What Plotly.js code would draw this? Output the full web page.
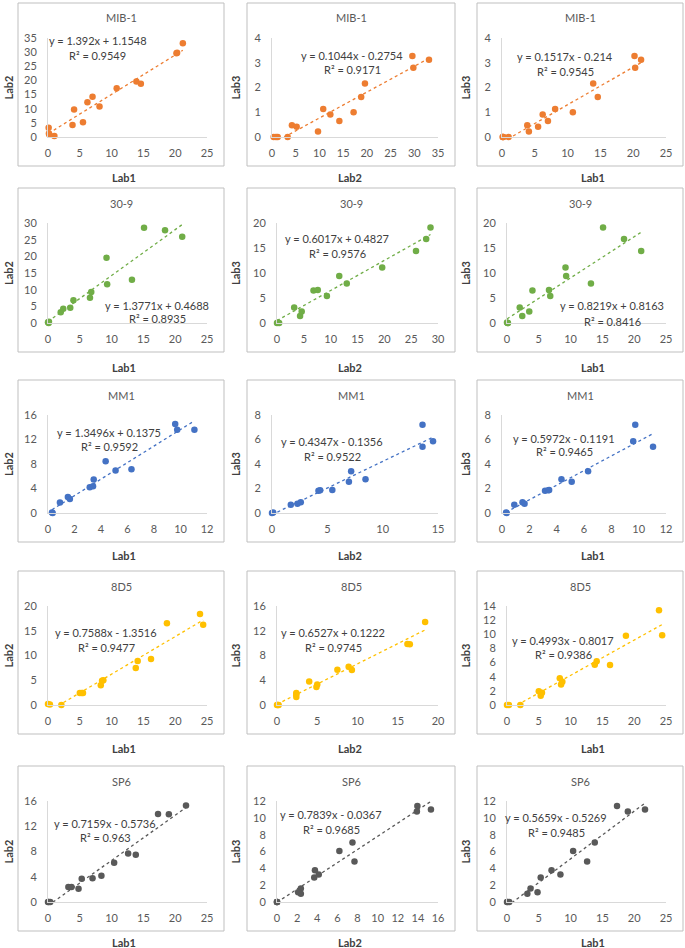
<!DOCTYPE html>
<html>
<head>
<meta charset="utf-8">
<script src="https://cdn.plot.ly/plotly-3.0.1.min.js"></script>
<style>
  body { margin: 0; background: #fff; }
  #chart { width: 685px; height: 948px; }
</style>
</head>
<body>
<div id="chart"></div>
<script>
// one row of panels per antibody
var antibodies = ["MIB-1", "30-9", "MM1", "8D5", "SP6"];
var colors = ["#ED7D31", "#70AD47", "#4472C4", "#FFC000", "#595959"];

// scores per sample, same sample order in the three labs
var mib1Lab1 = [0.1, 0.15, 0.2, 1.0, 3.85, 4.1, 5.5, 6.2, 7.0, 8.1, 10.8, 13.9, 14.6, 20.2, 20.3, 21.2];
var mib1Lab2 = [3.3, 1.2, 0.85, 0.35, 4.2, 9.7, 5.2, 12.3, 14.2, 10.8, 17.2, 19.6, 18.8, 29.6, 29.8, 33.1];
var mib1Lab3 = [0, 0, 0, 0, 0.47, 0.22, 0.41, 0.91, 0.65, 1.13, 1.0, 2.16, 1.62, 3.27, 2.8, 3.12];

var a309Lab1 = [0, 0.1, 0.15, 2.0, 2.4, 3.5, 4.0, 6.6, 6.8, 9.2, 9.3, 13.2, 15.1, 18.4, 21.1];
var a309Lab2 = [0.2, 0, 0.4, 3.2, 4.3, 4.6, 6.8, 7.6, 9.3, 19.6, 11.6, 13.0, 28.6, 27.8, 25.9];
var a309Lab3 = [0.1, 0, 0, 3.1, 1.4, 2.3, 6.5, 6.6, 5.4, 11.1, 9.4, 7.9, 19.1, 16.8, 14.4];

var mm1Lab1 = [0.3, 0.35, 0.9, 1.5, 1.65, 3.15, 3.4, 3.45, 4.35, 5.1, 6.3, 9.6, 9.75, 11.05];
var mm1Lab2 = [0.1, 0, 1.7, 2.6, 2.3, 4.2, 4.35, 5.45, 8.45, 6.95, 7.15, 14.55, 13.6, 13.6];
var mm1Lab3 = [0.05, 0, 0.67, 0.88, 0.75, 1.81, 1.86, 1.87, 2.75, 2.55, 3.4, 5.85, 7.2, 5.4];

var d85Lab1 = [0, 0.3, 2.1, 5.0, 5.3, 5.5, 8.3, 8.5, 8.7, 13.8, 14.1, 16.2, 18.7, 23.9, 24.4];
var d85Lab2 = [0.2, 0.1, 0, 2.4, 2.4, 2.4, 4.0, 4.9, 5.0, 7.5, 8.9, 9.3, 16.5, 18.4, 16.2];
var d85Lab3 = [0, 0, 0, 1.95, 1.3, 1.75, 3.8, 2.9, 3.3, 5.7, 6.2, 5.65, 9.8, 13.4, 9.85];

var sp6Lab1 = [0, 0.1, 0.35, 3.2, 3.7, 4.8, 5.3, 7.0, 8.4, 10.4, 12.6, 13.8, 17.3, 19.0, 21.7];
var sp6Lab2 = [0, 0, 0, 2.37, 2.37, 2.1, 3.7, 3.77, 4.15, 6.2, 7.7, 7.5, 13.95, 13.9, 15.3];
var sp6Lab3 = [0, 0, 0, 0.97, 1.6, 1.17, 2.9, 3.77, 3.26, 6.06, 4.8, 7.07, 11.4, 10.75, 11.0];

var labs = [
  [mib1Lab1, mib1Lab2, mib1Lab3],
  [a309Lab1, a309Lab2, a309Lab3],
  [mm1Lab1, mm1Lab2, mm1Lab3],
  [d85Lab1, d85Lab2, d85Lab3],
  [sp6Lab1, sp6Lab2, sp6Lab3]
];

// columns: Lab2 vs Lab1, Lab3 vs Lab2, Lab3 vs Lab1
var pairs = [[0, 1], [1, 2], [0, 2]];
var labNames = ["Lab1", "Lab2", "Lab3"];

// trendline slope, intercept and R² as printed on each panel
var slopes = [
  [1.392, 0.1044, 0.1517],
  [1.3771, 0.6017, 0.8219],
  [1.3496, 0.4347, 0.5972],
  [0.7588, 0.6527, 0.4993],
  [0.7159, 0.7839, 0.5659]
];
var intercepts = [
  [1.1548, -0.2754, -0.214],
  [0.4688, 0.4827, 0.8163],
  [0.1375, -0.1356, -0.1191],
  [-1.3516, 0.1222, -0.8017],
  [-0.5736, -0.0367, -0.5269]
];
var rSquared = [
  [0.9549, 0.9171, 0.9545],
  [0.8935, 0.9576, 0.8416],
  [0.9592, 0.9522, 0.9465],
  [0.9477, 0.9745, 0.9386],
  [0.963, 0.9685, 0.9485]
];

// axis scales
var xMax = [[25, 35, 25], [25, 30, 25], [12, 15, 12], [25, 20, 25], [25, 16, 25]];
var xStep = [[5, 5, 5], [5, 5, 5], [2, 5, 2], [5, 5, 5], [5, 2, 5]];
var yMax = [[35, 4, 4], [30, 20, 20], [16, 8, 8], [20, 16, 14], [16, 12, 12]];
var yStep = [[5, 1, 1], [5, 5, 5], [4, 2, 2], [5, 4, 2], [4, 2, 2]];

// page geometry in pixels
var W = 685, H = 948;
var colBox = [[18, 224], [247, 455], [477, 683]];
var rowBox = [[3, 166], [188, 352], [380, 542], [571, 734], [766, 931]];
var xTitleY = [177, 367, 555, 748, 942];
var xTitleX = [124, 350, 593];
var yTitleX = [8, 235, 465];
// equation position: centre x, line 1 y, line 2 y
var eqPos = [
  [[98, 41, 55], [352, 56, 70], [565, 57, 71]],
  [[157, 306, 319], [337, 239, 253], [612, 306, 321]],
  [[109, 432, 446], [332, 442, 456], [564, 438, 452]],
  [[106, 632, 647], [333, 632, 647], [563, 640, 654]],
  [[105, 823, 837], [331, 814, 829], [556, 817, 832]]
];

var font = "Lato, 'Open Sans', sans-serif";
function px(x) { return x / W; }
function py(y) { return 1 - y / H; }

var data = [];
var layout = {
  width: W, height: H,
  margin: {l: 0, r: 0, t: 0, b: 0},
  paper_bgcolor: "#fff", plot_bgcolor: "#fff",
  showlegend: false,
  font: {family: font, size: 11, color: "#595959"},
  shapes: [], annotations: []
};

// text placed by page pixel centre
function label(text, x, y, size, color, bold, angle) {
  layout.annotations.push({
    text: text, xref: "paper", yref: "paper",
    x: px(x), y: py(y), xanchor: "center", yanchor: "middle",
    showarrow: false, textangle: angle || 0,
    font: {family: font, size: size, color: color, weight: bold ? "bold" : "normal"}
  });
}

function addPanel(r, c) {
  var k = r * 3 + c;
  var xa = k === 0 ? "x" : "x" + (k + 1);
  var ya = k === 0 ? "y" : "y" + (k + 1);
  var xs = labs[r][pairs[c][0]];
  var ys = labs[r][pairs[c][1]];
  var bl = colBox[c][0], br = colBox[c][1], bt = rowBox[r][0], bb = rowBox[r][1];

  // plot area inside the frame
  var pLeft = bl + (yMax[r][c] >= 10 ? 30 : 25);
  var pRight = br - 17;
  var pTop = bt + 35;
  var pBottom = bb - 29;

  layout["xaxis" + (k === 0 ? "" : k + 1)] = {
    domain: [px(pLeft), px(pRight)], anchor: ya,
    range: [0, xMax[r][c]], tick0: 0, dtick: xStep[r][c],
    showline: true, linecolor: "#D9D9D9", linewidth: 1,
    showgrid: false, zeroline: false, ticks: "",
    ticklabelstandoff: 6,
    tickfont: {family: font, size: 11, color: "#595959"}
  };
  layout["yaxis" + (k === 0 ? "" : k + 1)] = {
    domain: [py(pBottom), py(pTop)], anchor: xa,
    range: [0, yMax[r][c]], tick0: 0, dtick: yStep[r][c],
    showline: true, linecolor: "#D9D9D9", linewidth: 1,
    showgrid: false, zeroline: false, ticks: "",
    ticklabelstandoff: 8,
    tickfont: {family: font, size: 11, color: "#595959"}
  };

  // trendline over the data's x span
  var lo = Math.min.apply(null, xs), hi = Math.max.apply(null, xs);
  var m = slopes[r][c], b = intercepts[r][c];
  data.push({
    x: [lo, hi], y: [m * lo + b, m * hi + b],
    xaxis: xa, yaxis: ya, type: "scatter", mode: "lines",
    line: {color: colors[r], width: 1.3, dash: "dot"},
    hoverinfo: "skip"
  });
  data.push({
    x: xs, y: ys, xaxis: xa, yaxis: ya,
    type: "scatter", mode: "markers", cliponaxis: false,
    marker: {color: colors[r], size: 6.5}
  });

  // chart frame
  layout.shapes.push({
    type: "rect", xref: "paper", yref: "paper",
    x0: px(bl), x1: px(br), y0: py(bb), y1: py(bt),
    line: {color: "#BFBFBF", width: 1}, layer: "below"
  });

  label(antibodies[r], (bl + br) / 2, bt + 15, 11, "#595959");

  var eq = "y = " + m + "x " + (b < 0 ? "- " : "+ ") + Math.abs(b);
  label(eq, eqPos[r][c][0], eqPos[r][c][1], 11, "#404040");
  label("R² = " + rSquared[r][c], eqPos[r][c][0], eqPos[r][c][2], 11, "#404040");

  // axis titles sit outside the frame
  label(labNames[pairs[c][0]], xTitleX[c], xTitleY[r], 11, "#404040", true);
  label(labNames[pairs[c][1]], yTitleX[c], (pTop + pBottom) / 2, 11, "#404040", true, -90);
}

for (var r = 0; r < 5; r++) {
  for (var c = 0; c < 3; c++) {
    addPanel(r, c);
  }
}

Plotly.newPlot("chart", data, layout, {staticPlot: true});
</script>
</body>
</html>
